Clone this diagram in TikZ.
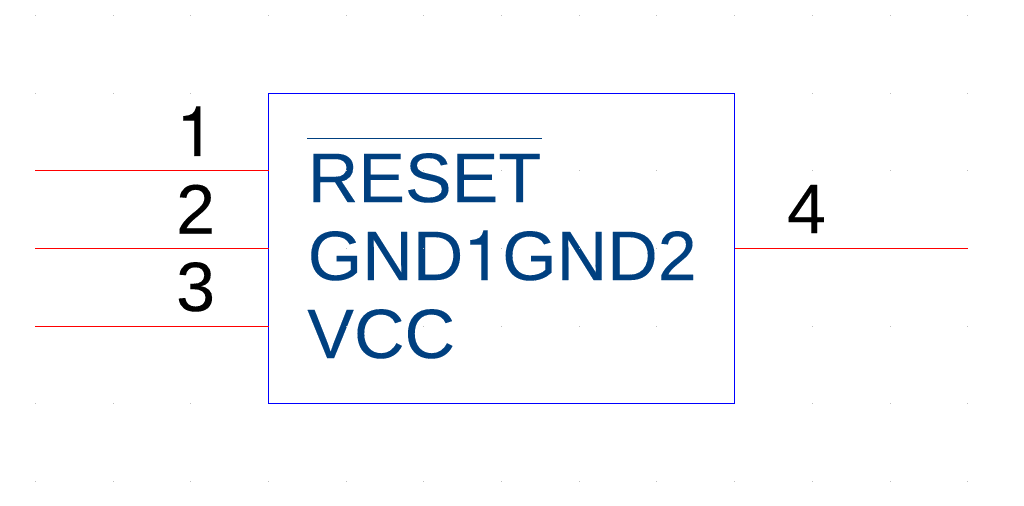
\documentclass[tikz,border=0pt]{standalone}
\usepackage{fontspec}
\setmainfont{Liberation Sans}[FakeBold=0.12]
\newfontfamily\onefont{TeX Gyre Heros}[FakeBold=0.12]
\newcommand{\plainone}{{\onefont 1}}
\definecolor{gridc}{RGB}{190,190,190}
\definecolor{labelc}{RGB}{0,64,128}
\tikzset{
  x=0.75pt,y=-0.75pt,
  bodybox/.style={draw=blue,line width=0.75pt,fill=none,outer sep=0pt,inner sep=0pt},
  pinline/.style={draw=red,line width=0.75pt},
  pinnum/.style={inner sep=0pt,text=black,font=\fontsize{52.5}{53}\selectfont,anchor=base},
  siglabel/.style={inner sep=0pt,text=labelc,font=\fontsize{52.5}{53}\selectfont,anchor=base west},
  griddot/.style={fill=gridc,draw=none}
}
\begin{document}
\begin{tikzpicture}
\useasboundingbox (0,0) rectangle (1024,506);
\fill[white] (0,0) rectangle (1024,506);
\node[siglabel] (reset) at (307.5,202) {RESET};
\node[siglabel] (gnd) at (307.5,280) {GND\plainone GND2};
\node[siglabel] (vcc) at (307,358) {VCC};
\foreach \gx in {35.5,113.5,190.5,268.5,346.5,423.5,501.5,579.5,656.5,734.5,812.5,890.5,967.5}
  \foreach \gy in {15.5,93.5,170.5,248.5,326.5,403.5,481.5}
    \fill[griddot] (\gx-0.5,\gy-0.5) rectangle (\gx+0.5,\gy+0.5);
\node[bodybox,minimum width=349.5pt,minimum height=232.5pt,anchor=north west] (body) at (268.5,93.5) {};
\coordinate (p1) at (35,170.5);
\coordinate (p2) at (35,248.5);
\coordinate (p3) at (35,326.5);
\coordinate (p4) at (968,248.5);
\coordinate (b1) at (268.5,170.5);
\coordinate (b2) at (268.5,248.5);
\coordinate (b3) at (268.5,326.5);
\coordinate (b4) at (734.5,248.5);
\draw[pinline] (p1) -- (b1);
\draw[pinline] (p2) -- (b2);
\draw[pinline] (p3) -- (b3);
\draw[pinline] (b4) -- (p4);
\node[pinnum] (n1) at (195.6,156) {\plainone};
\node[pinnum] (n2) at (195.6,233.5) {2};
\node[pinnum] (n3) at (195.6,311) {3};
\node[pinnum] (n4) at (806.5,233) {4};
\coordinate (olA) at (307,138.5);
\coordinate (olB) at (542,138.5);
\draw[draw=labelc,line width=0.75pt] (olA) -- (olB);
\end{tikzpicture}
\end{document}
